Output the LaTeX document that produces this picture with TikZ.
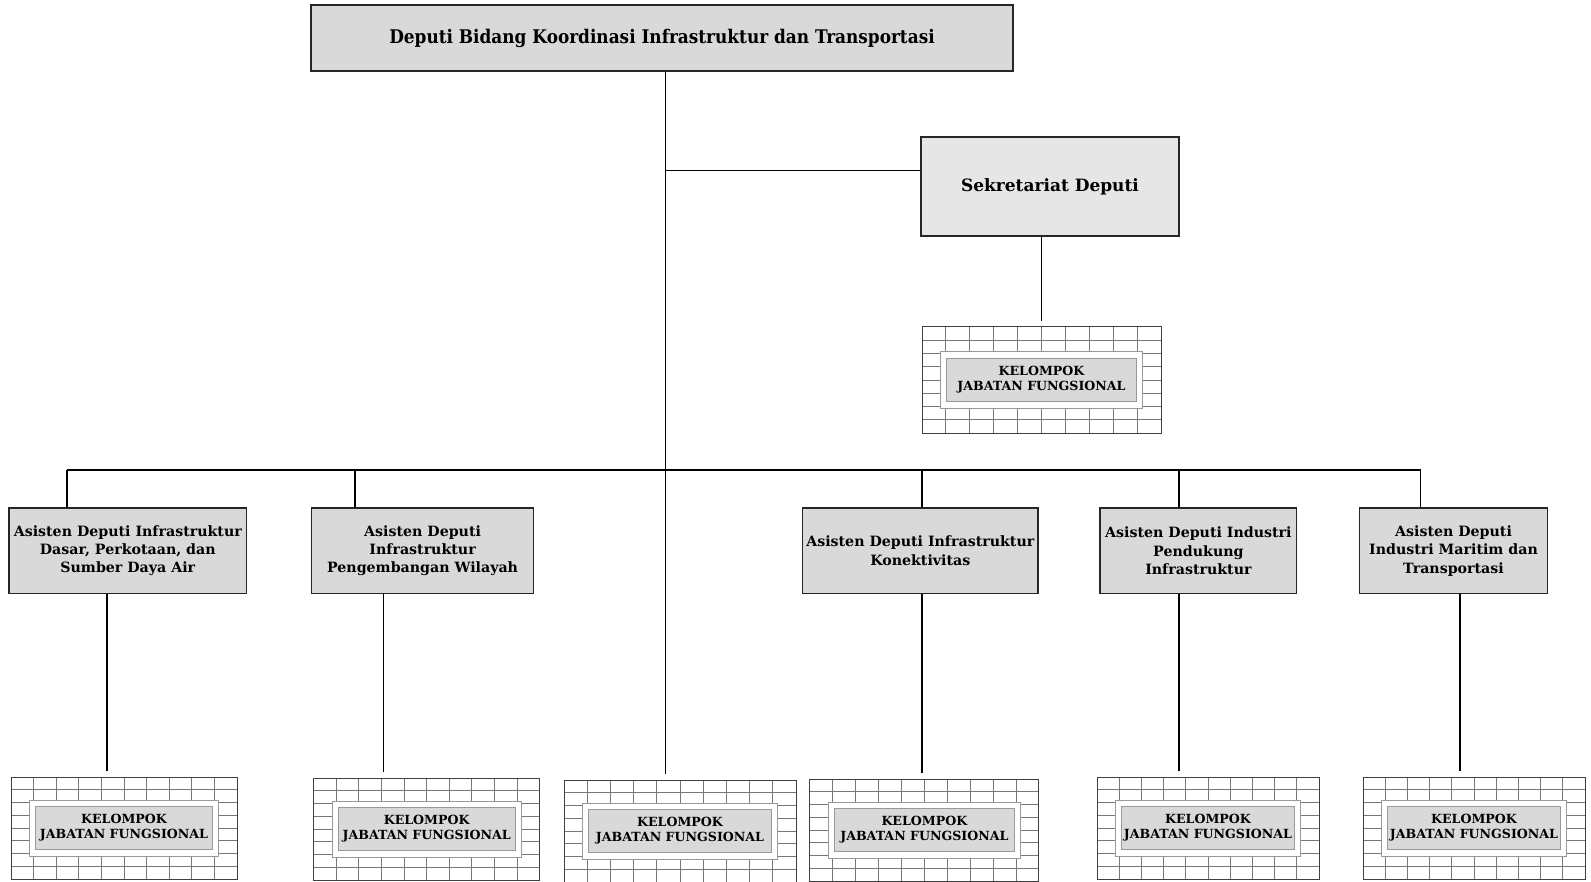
\documentclass[tikz,border=0pt]{standalone}
\usepackage{fontspec}
\setmainfont{DejaVu Serif}
\newfontfamily\narrowfont{DejaVu Serif Condensed}
\usetikzlibrary{calc}

\definecolor{boxgrey}{HTML}{D9D9D9}
\definecolor{lightgrey}{HTML}{E6E6E6}
\definecolor{gridgrey}{HTML}{777777}

\tikzset{
  unit/.style={draw=black!85, fill=boxgrey, line width=0.55pt, align=center, inner sep=0pt,
    font=\bfseries\fontsize{7.1}{9.15}\selectfont},
  gridbox/.style={draw=black!75, line width=0.5pt, fill=white,
    path picture={
      \foreach \gc in {1,...,9}
        \draw[gridgrey, line width=0.45pt]
          ($(path picture bounding box.south west)!\gc/10!(path picture bounding box.south east)$) --
          ($(path picture bounding box.north west)!\gc/10!(path picture bounding box.north east)$);
      \foreach \gr in {1,...,7}
        \draw[gridgrey, line width=0.45pt]
          ($(path picture bounding box.south west)!\gr/8!(path picture bounding box.north west)$) --
          ($(path picture bounding box.south east)!\gr/8!(path picture bounding box.north east)$);
    }},
  kjflabel/.style={draw=gray!80, double=white, double distance=2.6pt, line width=0.5pt,
    fill=boxgrey, align=center, inner sep=0pt, minimum height=24.9pt,
    font=\bfseries\fontsize{6.3}{7.6}\selectfont},
  link/.style={line width=0.55pt}
}

\begin{document}
\begin{tikzpicture}[x=0.5pt, y=-0.5pt]
  \useasboundingbox (0,0) rectangle (1591,882);

  % pimpinan
  \node[unit, minimum width=351pt, minimum height=33pt,
    font=\narrowfont\bfseries\fontsize{9.4}{11}\selectfont] (deputi) at (662,38)
    {Deputi Bidang Koordinasi Infrastruktur dan Transportasi};
  \node[unit, fill=lightgrey, minimum width=129pt, minimum height=49.5pt,
    font=\bfseries\fontsize{8.5}{10}\selectfont] (sekretariat) at (1050,186.5)
    {Sekretariat Deputi};

  % asisten deputi
  \node[unit, minimum width=118.8pt, minimum height=42.8pt] (asdep1) at (127.8,550.8)
    {Asisten Deputi Infrastruktur\\Dasar, Perkotaan, dan\\Sumber Daya Air};
  \node[unit, minimum width=111.1pt, minimum height=42.8pt] (asdep2) at (422.6,550.8)
    {Asisten Deputi\\Infrastruktur\\Pengembangan Wilayah};
  \node[unit, minimum width=117.7pt, minimum height=42.8pt] (asdep3) at (920.3,550.8)
    {Asisten Deputi Infrastruktur\\Konektivitas};
  \node[unit, minimum width=98.4pt, minimum height=42.8pt] (asdep4) at (1198.4,550.8)
    {Asisten Deputi Industri\\Pendukung\\Infrastruktur};
  \node[unit, minimum width=93.8pt, minimum height=42.8pt] (asdep5) at (1453.5,550.8)
    {Asisten Deputi\\Industri Maritim dan\\Transportasi};

  % kelompok jabatan fungsional
  \foreach \n/\x/\y/\w/\h in {0/1041.5/380/119.5/53, 1/124/828/113/51, 2/426.7/829/113/51,
      3/680/831/116/51, 4/924.4/830/114.5/51, 5/1208/828/111/51, 6/1474/828/111/51}{
    \node[gridbox, minimum width=\w pt, minimum height=\h pt] (kjf\n) at (\x,\y) {};
    \node[kjflabel, minimum width=\w pt-21.6pt] (kjf\n label) at (kjf\n)
      {KELOMPOK\\JABATAN FUNGSIONAL};
  }

  % garis
  \coordinate (trunk) at (665.6,470);
  \coordinate (sekbranch) at (665.6,170.5);
  \draw[link, shorten >=3pt] (deputi.south -| trunk) -- (trunk |- kjf3.north);
  \draw[link] (sekbranch) -- (sekbranch -| sekretariat.west);
  \draw[link, shorten >=2.5pt] (sekretariat.south -| kjf0.north) -- (kjf0.north);

  \foreach \a/\x in {1/67, 2/355, 3/922, 4/1179, 5/1420.6}
    \coordinate (top\a) at (\x,470);
  \draw[link] (top1) -- (top5);
  \foreach \a in {1,...,5}
    \draw[link] (top\a) -- (top\a |- asdep\a.north);

  \foreach \a/\k/\x in {1/1/107, 2/2/383.6, 3/4/922, 4/5/1179, 5/6/1460}{
    \coordinate (drop\a) at (\x,0);
    \draw[link, shorten >=3pt] (asdep\a.south -| drop\a) -- (kjf\k.north -| drop\a);
  }
\end{tikzpicture}
\end{document}
